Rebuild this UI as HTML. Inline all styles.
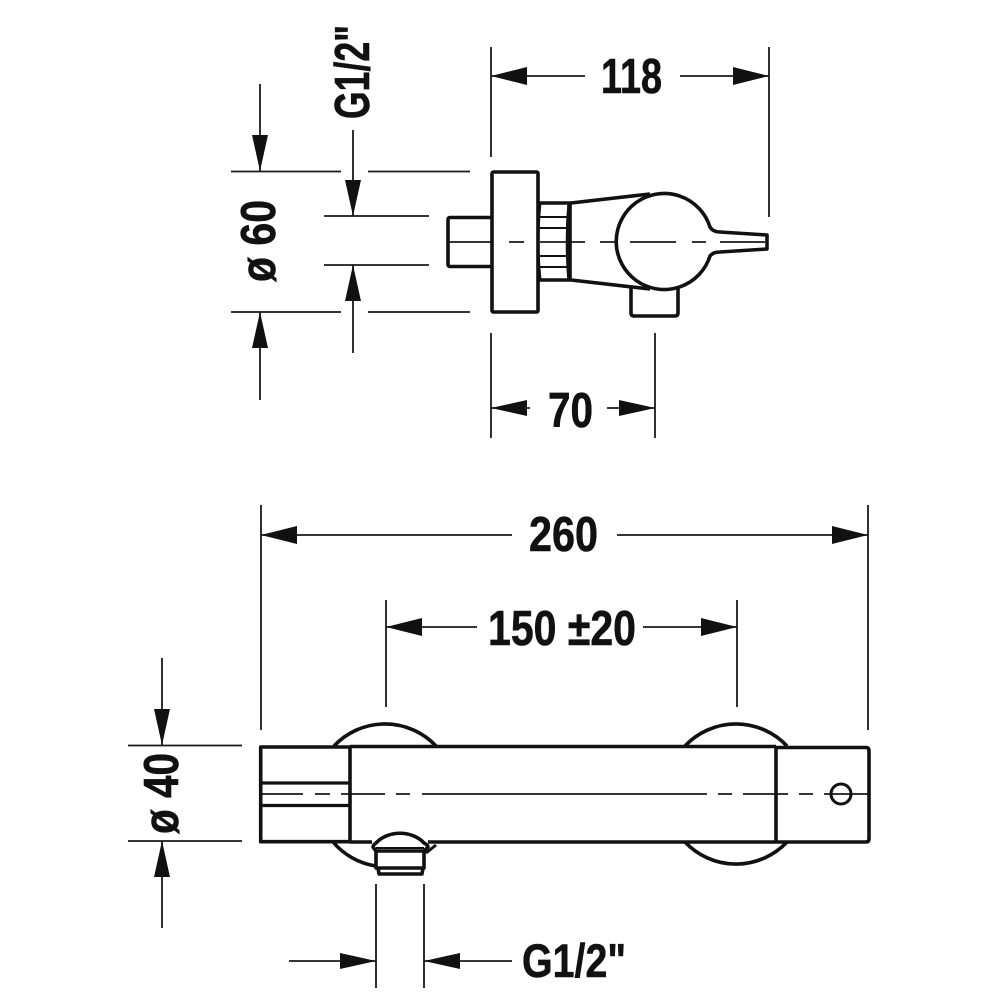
<!DOCTYPE html>
<html><head><meta charset="utf-8"><style>
html,body{margin:0;padding:0;background:#fff}
svg{display:block}
text{font-family:"Liberation Sans",sans-serif;font-weight:bold;fill:#111;stroke:#111;stroke-width:.6}
</style></head><body>
<svg width="1000" height="1000" viewBox="0 0 1000 1000" xmlns="http://www.w3.org/2000/svg">
<!-- thin lines -->
<g stroke="#1a1a1a" stroke-width="1.800" fill="none">
<path d="M491 47V157M769 47V217M491 76H585M680 76H769"/>
<path d="M491 333V438M655 333V438M491 408H530M607 408H655"/>
<path d="M260 84V171M260 312V400M231 171.500H341M368 171.500H470M231 312H341M368 312H470"/>
<path d="M353 130V216M353 265V353M324 216H429M324 265H429"/>
<path d="M261 505V730M868 505V730M261 535H512M617 535H868"/>
<path d="M386 600V707M737 600V707M386 627H477M643 627H737"/>
<path d="M162 658V745M162 841V928M128 745.500H242M128 841H242"/>
<path d="M376 884V988M424 884V988M289 961H376M424 961H512"/>
<!-- centre lines -->
<path d="M448 242H493M509 242H524M540 242H567M570 242H585M600 242H615M630 242H676M692 242H706M720 242H765"/>
<path d="M262 794H303M315 794H330M341 794H385M396 794H410M422 794H707M718 794H732M743 794H788M799 794H813M824 794H868"/>
</g>
<!-- arrowheads -->
<g fill="#111">
<path d="M491 76L527 67V85ZM769 76L733 67V85Z"/>
<path d="M491 408L527 400V416ZM655 408L619 400V416Z"/>
<path d="M260 171L252 135H268ZM260 312L252 348H268Z"/>
<path d="M353 216L345 180H361ZM353 265L345 301H361Z"/>
<path d="M261 535L297 526V544ZM868 535L832 526V544Z"/>
<path d="M386 627L422 618V636ZM737 627L701 618V636Z"/>
<path d="M162 745L154 709H170ZM162 841L154 877H170Z"/>
<path d="M376 961L340 953V969ZM424 961L460 953V969Z"/>
</g>
<!-- side view -->
<g stroke="#111" stroke-width="3.600" fill="none" stroke-linejoin="round">
<path d="M492 217.500H450Q448 217.500 448 220V264Q448 266.500 450 266.500H492"/>
<rect x="492" y="172" width="46" height="140" rx="1.500"/>
<path d="M538 203H570V280H538"/>
<path d="M540 203Q536 242 540 280" stroke-width="3"/>
<path d="M569 205Q566 242 569 279" stroke-width="3.600"/>
<path d="M540 217H568M540 228H567M540 256H567M540 267H568" stroke-width="2"/>
<path d="M571 203L650 194M571 280L650 289"/>
<path d="M710 227Q713 232 720 232L767 235V249L720 252Q713 252 710 256A48 48 0 1 1 710 227Z"/>
<path d="M631 288V313Q631 316 634 316H675Q678 316 678 313V288"/>
</g>
<!-- front view -->
<g stroke="#111" stroke-width="3.600" fill="none" stroke-linejoin="round">
<path d="M334 746A70 70 0 0 1 436 746"/>
<path d="M685 746A70 70 0 0 1 787 746"/>
<path d="M333 842A70 70 0 0 0 376 866"/>
<path d="M685 842A70 70 0 0 0 787 842"/>
<path d="M350 747H260.700V841.700H350"/>
<path d="M350 746.500H776M350 842H372M428 842H776"/>
<path d="M350 746.500V842"/>
<path d="M260.700 783H350M260.700 805.500H350" stroke-width="3.200"/>
<path d="M776 747.500H866Q869 747.500 869 750.500V839Q869 842 866 842H776"/>
<path d="M776 746.500V842"/>
<circle cx="841" cy="794" r="10" stroke-width="3"/>
<path d="M373 847Q373 845 376 843C388 830 412 830 424 843Q428 845 428 847L424 851H376Z" fill="#fff"/>
<path d="M376 851V868H424V851M378 868L379 874H422L423 868"/>
<path d="M376 848H424" stroke-width="2"/>
<path d="M426 853L436 845" stroke-width="3"/>
</g>
<!-- labels -->
<text x="601" y="93" font-size="49" textLength="61" lengthAdjust="spacingAndGlyphs">118</text>
<text x="548" y="427" font-size="49" textLength="45" lengthAdjust="spacingAndGlyphs">70</text>
<text x="529" y="551" font-size="49" textLength="69" lengthAdjust="spacingAndGlyphs">260</text>
<text x="488" y="645" font-size="49" textLength="148" lengthAdjust="spacingAndGlyphs">150 ±20</text>
<text x="522" y="977" font-size="47" textLength="104" lengthAdjust="spacingAndGlyphs">G1/2"</text>
<text transform="translate(369 119) rotate(-90)" font-size="49" textLength="94" lengthAdjust="spacingAndGlyphs">G1/2"</text>
<text transform="translate(275 282) rotate(-90)" font-size="49" textLength="82" lengthAdjust="spacingAndGlyphs">ø 60</text>
<text transform="translate(178 834) rotate(-90)" font-size="49" textLength="81" lengthAdjust="spacingAndGlyphs">ø 40</text>
</svg>
</body></html>
